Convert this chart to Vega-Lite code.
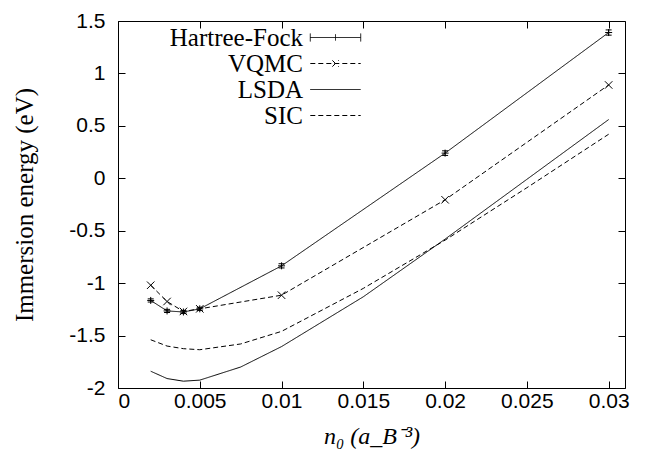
{
  "$schema": "https://vega.github.io/schema/vega-lite/v6.json",
  "autosize": {"type": "none"},
  "width": 507,
  "height": 367,
  "padding": {"left": 118, "top": 21, "right": 20, "bottom": 72},
  "background": "white",
  "datasets": {
    "curves": [
      {"series": "Hartree-Fock", "n": 0.002, "E": -1.165, "lo": -1.18, "hi": -1.15},
      {"series": "Hartree-Fock", "n": 0.003, "E": -1.265, "lo": -1.28, "hi": -1.25},
      {"series": "Hartree-Fock", "n": 0.004, "E": -1.275, "lo": -1.29, "hi": -1.26},
      {"series": "Hartree-Fock", "n": 0.005, "E": -1.245, "lo": -1.26, "hi": -1.23},
      {"series": "Hartree-Fock", "n": 0.01, "E": -0.835, "lo": -0.855, "hi": -0.815},
      {"series": "Hartree-Fock", "n": 0.02, "E": 0.24, "lo": 0.218, "hi": 0.262},
      {"series": "Hartree-Fock", "n": 0.03, "E": 1.39, "lo": 1.365, "hi": 1.415},
      {"series": "VQMC", "n": 0.002, "E": -1.02},
      {"series": "VQMC", "n": 0.003, "E": -1.175},
      {"series": "VQMC", "n": 0.004, "E": -1.27},
      {"series": "VQMC", "n": 0.005, "E": -1.245},
      {"series": "VQMC", "n": 0.01, "E": -1.115},
      {"series": "VQMC", "n": 0.02, "E": -0.205},
      {"series": "VQMC", "n": 0.03, "E": 0.89},
      {"series": "LSDA", "n": 0.002, "E": -1.84},
      {"series": "LSDA", "n": 0.003, "E": -1.91},
      {"series": "LSDA", "n": 0.004, "E": -1.935},
      {"series": "LSDA", "n": 0.005, "E": -1.925},
      {"series": "LSDA", "n": 0.0075, "E": -1.8},
      {"series": "LSDA", "n": 0.01, "E": -1.605},
      {"series": "LSDA", "n": 0.015, "E": -1.13},
      {"series": "LSDA", "n": 0.02, "E": -0.58},
      {"series": "LSDA", "n": 0.025, "E": -0.01},
      {"series": "LSDA", "n": 0.03, "E": 0.56},
      {"series": "SIC", "n": 0.002, "E": -1.54},
      {"series": "SIC", "n": 0.003, "E": -1.6},
      {"series": "SIC", "n": 0.004, "E": -1.625},
      {"series": "SIC", "n": 0.005, "E": -1.635},
      {"series": "SIC", "n": 0.0075, "E": -1.58},
      {"series": "SIC", "n": 0.01, "E": -1.46},
      {"series": "SIC", "n": 0.015, "E": -1.05},
      {"series": "SIC", "n": 0.02, "E": -0.59},
      {"series": "SIC", "n": 0.025, "E": -0.09},
      {"series": "SIC", "n": 0.03, "E": 0.42}
    ]
  },
  "data": {"name": "curves"},
  "resolve": {"axis": {"x": "independent", "y": "independent"}},
  "layer": [
    {
      "mark": {"type": "line", "color": "black", "strokeWidth": 1},
      "encoding": {
        "x": {"field": "n", "type": "quantitative",
          "scale": {"domain": [0, 0.031], "nice": false, "zero": false},
          "axis": {"orient": "bottom", "values": [0, 0.005, 0.01, 0.015, 0.02, 0.025, 0.03],
            "labelExpr": "'' + datum.value", "labelPadding": 9, "title": "n₀ (a_B⁻³)",
            "titleFontStyle": "italic", "titleFontSize": 24, "titlePadding": 13}},
        "y": {"field": "E", "type": "quantitative",
          "scale": {"domain": [-2, 1.5], "nice": false, "zero": false},
          "axis": {"orient": "left", "values": [-2, -1.5, -1, -0.5, 0, 0.5, 1, 1.5],
            "labelExpr": "'' + datum.value", "labelPadding": 20, "title": "Immersion energy (eV)",
            "titleFontSize": 25, "titlePadding": 31}},
        "strokeDash": {"field": "series", "type": "nominal",
          "scale": {"domain": ["Hartree-Fock", "VQMC", "LSDA", "SIC"], "range": [[1, 0], [5, 3], [1, 0], [5, 3]]},
          "legend": {"title": null, "orient": "none", "legendX": 205, "legendY": 4, "padding": 0,
            "labelFont": "Liberation Serif", "labelFontSize": 25, "labelColor": "black",
            "labelAlign": "right", "labelOffset": -45, "labelLimit": 300,
            "symbolSize": 441, "symbolStrokeColor": "black", "symbolStrokeWidth": 1,
            "rowPadding": -2,
            "encode": {"symbols": {"update": {"shape": {"signal": "datum.value == 'Hartree-Fock' ? 'M-2.4,0H2.4M-2.4,-0.38V0.38M2.4,-0.38V0.38M0,-0.3V0.3' : datum.value == 'VQMC' ? 'M-2.4,0H2.4M-0.3,-0.3L0.3,0.3M-0.3,0.3L0.3,-0.3' : 'M-2.4,0H2.4'"}}}}}
        }
      }
    },
    {
      "transform": [{"filter": "datum.series == 'Hartree-Fock'"}],
      "mark": {"type": "rule", "color": "black", "strokeWidth": 1},
      "encoding": {
        "x": {"field": "n", "type": "quantitative", "scale": {"domain": [0, 0.031], "nice": false, "zero": false}, "axis": null},
        "y": {"field": "lo", "type": "quantitative", "scale": {"domain": [-2, 1.5], "nice": false, "zero": false}, "axis": null},
        "y2": {"field": "hi"}
      }
    },
    {
      "transform": [{"filter": "datum.series == 'Hartree-Fock'"}],
      "mark": {"type": "point", "shape": "M-1,0H1", "size": 36, "filled": false, "color": "black", "strokeWidth": 1, "opacity": 1},
      "encoding": {
        "x": {"field": "n", "type": "quantitative", "scale": {"domain": [0, 0.031], "nice": false, "zero": false}, "axis": null},
        "y": {"field": "lo", "type": "quantitative", "scale": {"domain": [-2, 1.5], "nice": false, "zero": false}, "axis": null}
      }
    },
    {
      "transform": [{"filter": "datum.series == 'Hartree-Fock'"}],
      "mark": {"type": "point", "shape": "M-1,0H1", "size": 36, "filled": false, "color": "black", "strokeWidth": 1, "opacity": 1},
      "encoding": {
        "x": {"field": "n", "type": "quantitative", "scale": {"domain": [0, 0.031], "nice": false, "zero": false}, "axis": null},
        "y": {"field": "hi", "type": "quantitative", "scale": {"domain": [-2, 1.5], "nice": false, "zero": false}, "axis": null}
      }
    },
    {
      "transform": [{"filter": "datum.series == 'Hartree-Fock'"}],
      "mark": {"type": "point", "shape": "M-1,0H1M0,-1V1", "size": 49, "filled": false, "color": "black", "strokeWidth": 1, "opacity": 1},
      "encoding": {
        "x": {"field": "n", "type": "quantitative", "scale": {"domain": [0, 0.031], "nice": false, "zero": false}, "axis": null},
        "y": {"field": "E", "type": "quantitative", "scale": {"domain": [-2, 1.5], "nice": false, "zero": false}, "axis": null}
      }
    },
    {
      "transform": [{"filter": "datum.series == 'VQMC'"}],
      "mark": {"type": "point", "shape": "M-1,-1L1,1M-1,1L1,-1", "size": 56, "filled": false, "color": "black", "strokeWidth": 1, "opacity": 1},
      "encoding": {
        "x": {"field": "n", "type": "quantitative", "scale": {"domain": [0, 0.031], "nice": false, "zero": false}, "axis": null},
        "y": {"field": "E", "type": "quantitative", "scale": {"domain": [-2, 1.5], "nice": false, "zero": false}, "axis": null}
      }
    },
    {
      "mark": {"type": "point", "opacity": 0},
      "encoding": {
        "x": {"field": "n", "type": "quantitative", "scale": {"domain": [0, 0.031], "nice": false, "zero": false},
          "axis": {"orient": "top", "values": [0, 0.005, 0.01, 0.015, 0.02, 0.025, 0.03], "labels": false, "title": null}},
        "y": {"field": "E", "type": "quantitative", "scale": {"domain": [-2, 1.5], "nice": false, "zero": false},
          "axis": {"orient": "right", "values": [-2, -1.5, -1, -0.5, 0, 0.5, 1, 1.5], "labels": false, "title": null}}
      }
    }
  ],
  "config": {
    "view": {"stroke": "black", "strokeWidth": 1},
    "axis": {"domain": false, "grid": false, "ticks": true, "tickColor": "black", "tickSize": -7, "tickWidth": 1,
      "labelFont": "Liberation Sans", "labelFontSize": 21, "labelColor": "black",
      "titleFont": "Liberation Serif", "titleFontWeight": "normal", "titleColor": "black"},
    "legend": {"padding": 0}
  }
}
